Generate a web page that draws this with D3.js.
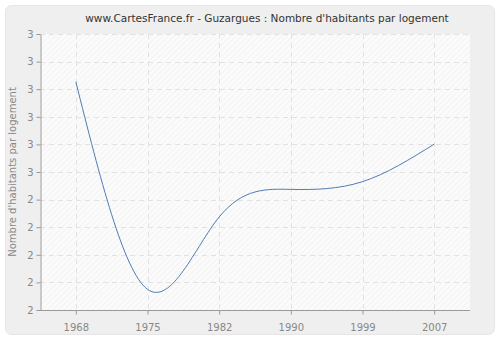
<!DOCTYPE html>
<html lang="fr">
<head>
<meta charset="UTF-8">
<title>Guzargues : Nombre d'habitants par logement</title>
<script src="https://d3js.org/d3.v7.min.js"></script>
<style>
  body { margin: 0; background: #fff; }
  text { font-family: "DejaVu Sans", sans-serif; }
</style>
</head>
<body>
<div id="chart"></div>
<script>
const years = ["1968", "1975", "1982", "1990", "1999", "2007"];
const values = [2.827, 2.075, 2.337, 2.437, 2.465, 2.601];
const yTicks = [2.0, 2.1, 2.2, 2.3, 2.4, 2.5, 2.6, 2.7, 2.8, 2.9, 3.0];

const W = 500, H = 340;
const margin = {top: 34, right: 30, bottom: 30, left: 40};

const svg = d3.select("#chart").append("svg")
    .attr("width", W)
    .attr("height", H);

// hatch pattern for plot background
const defs = svg.append("defs");
const pat = defs.append("pattern")
    .attr("id", "hatch")
    .attr("patternUnits", "userSpaceOnUse")
    .attr("width", 4).attr("height", 4)
    .attr("patternTransform", "rotate(45)");
pat.append("rect").attr("width", 4).attr("height", 4).attr("fill", "#fbfbfb");
pat.append("line").attr("x1", 0).attr("y1", 0).attr("x2", 0).attr("y2", 4)
    .attr("stroke", "#eeeeee").attr("stroke-width", 1.2);

// outer panel
svg.append("rect")
    .attr("x", 5.5).attr("y", 5.5)
    .attr("width", W - 11).attr("height", H - 11)
    .attr("rx", 6)
    .attr("fill", "#efefef")
    .attr("stroke", "#e6e6e6");

const x = d3.scalePoint()
    .domain(years)
    .range([margin.left, W - margin.right])
    .padding(0.5);

const y = d3.scaleLinear()
    .domain([2.0, 3.0])
    .range([H - margin.bottom, margin.top]);

svg.append("rect")
    .attr("x", margin.left).attr("y", margin.top)
    .attr("width", W - margin.right - margin.left)
    .attr("height", H - margin.bottom - margin.top)
    .attr("fill", "url(#hatch)");

// grid
svg.append("g")
    .selectAll("line")
    .data(yTicks)
    .join("line")
    .attr("x1", margin.left).attr("x2", W - margin.right)
    .attr("y1", d => Math.round(y(d)) + 0.5).attr("y2", d => Math.round(y(d)) + 0.5)
    .attr("stroke", "#e2e2e2")
    .attr("stroke-dasharray", "5,4");

svg.append("g")
    .selectAll("line")
    .data(years)
    .join("line")
    .attr("x1", d => Math.round(x(d)) + 0.5).attr("x2", d => Math.round(x(d)) + 0.5)
    .attr("y1", margin.top).attr("y2", H - margin.bottom)
    .attr("stroke", "#e2e2e2")
    .attr("stroke-dasharray", "5,4");

// axes
const yAxis = svg.append("g")
    .attr("transform", `translate(${margin.left + 0.5},0)`)
    .call(d3.axisLeft(y).tickValues(yTicks).tickFormat(d3.format(".0f")).tickSize(4).tickSizeOuter(0));

const xAxis = svg.append("g")
    .attr("transform", `translate(0,${H - margin.bottom + 0.5})`)
    .call(d3.axisBottom(x).tickSize(4).tickSizeOuter(0));

[xAxis, yAxis].forEach(a => {
    a.select(".domain").attr("stroke", "#999");
    a.selectAll(".tick line").attr("stroke", "#999");
    a.selectAll(".tick text").attr("fill", "#888").attr("font-size", 10)
        .attr("font-family", "DejaVu Sans, sans-serif");
});
xAxis.selectAll(".tick text").attr("dy", "1.3em");
xAxis.select(".domain").attr("d", `M${margin.left},0H${W - margin.right}`);

// line
const line = d3.line()
    .x((d, i) => x(years[i]))
    .y(d => y(d))
    .curve(d3.curveNatural);

svg.append("path")
    .datum(values)
    .attr("fill", "none")
    .attr("stroke", "#4f7db3")
    .attr("stroke-width", 1)
    .attr("d", line);

// title
svg.append("text")
    .attr("x", 267).attr("y", 22)
    .attr("text-anchor", "middle")
    .attr("font-size", 10.5)
    .attr("fill", "#333")
    .text("www.CartesFrance.fr - Guzargues : Nombre d'habitants par logement");

// y label
svg.append("text")
    .attr("transform", `translate(16,${(margin.top + H - margin.bottom) / 2}) rotate(-90)`)
    .attr("text-anchor", "middle")
    .attr("font-size", 10)
    .attr("fill", "#888")
    .text("Nombre d'habitants par logement");
</script>
</body>
</html>
